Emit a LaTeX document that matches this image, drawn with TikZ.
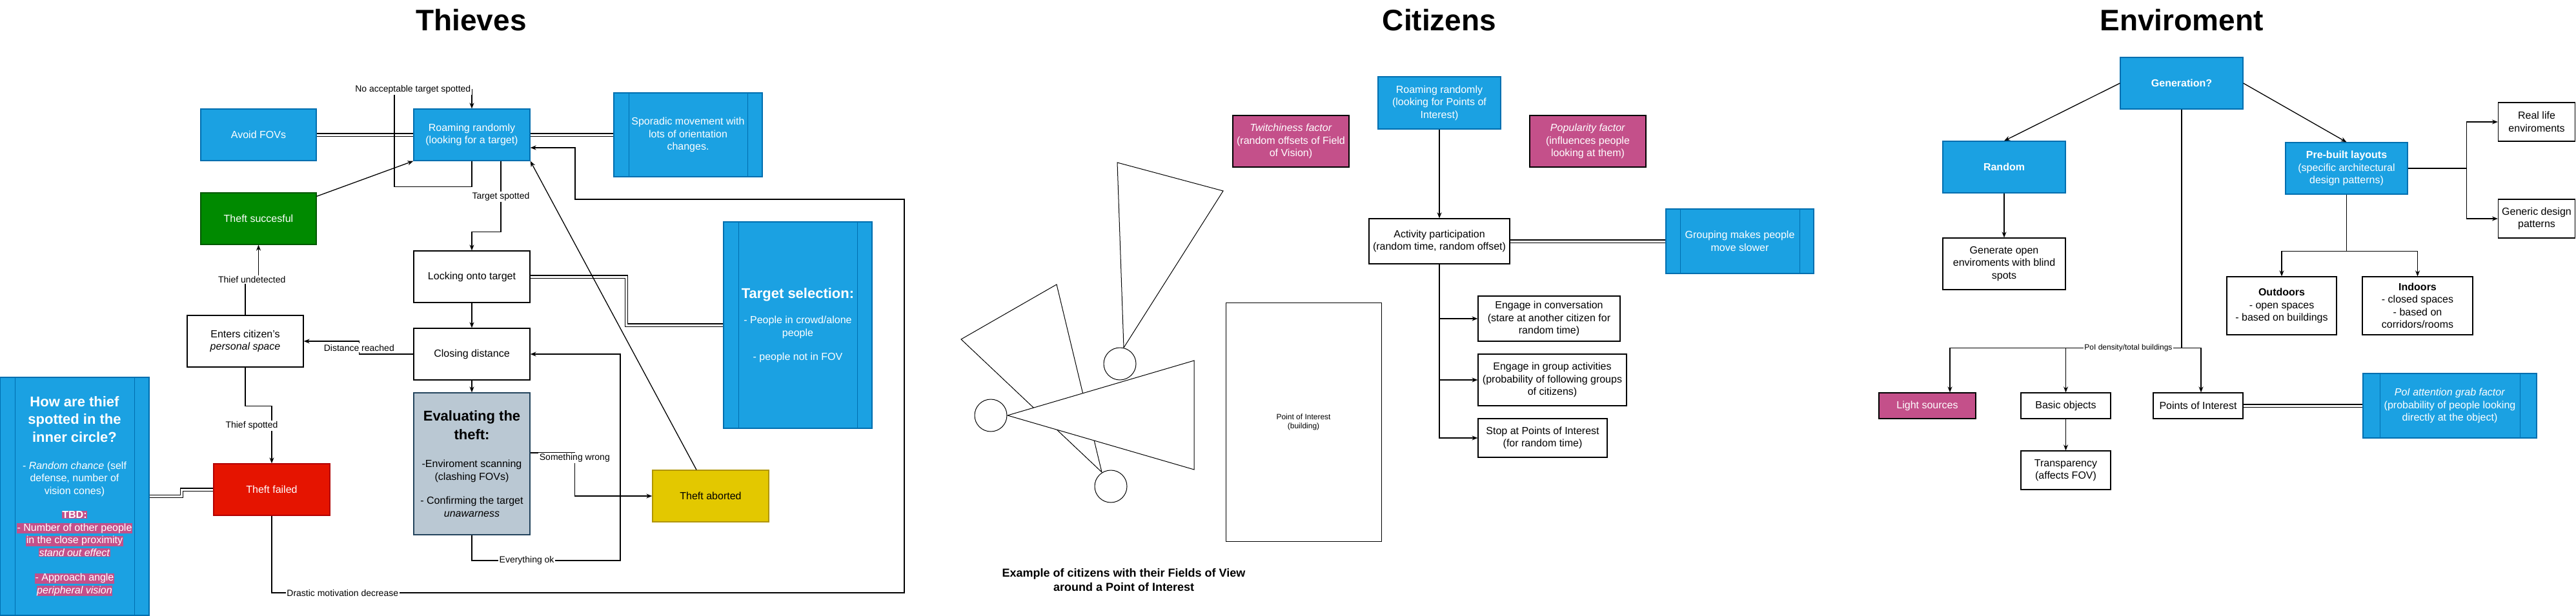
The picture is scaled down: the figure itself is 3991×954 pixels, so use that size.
\documentclass[tikz,border=0pt]{standalone}
\usepackage{fontspec}
\setmainfont{Liberation Sans}
\usetikzlibrary{arrows.meta,calc}

\definecolor{fillblue}{HTML}{1BA1E2}
\definecolor{lineblue}{HTML}{006EAF}
\definecolor{fillgreen}{HTML}{008A00}
\definecolor{linegreen}{HTML}{005700}
\definecolor{fillred}{HTML}{E51400}
\definecolor{linered}{HTML}{B20000}
\definecolor{fillyellow}{HTML}{E3C800}
\definecolor{lineyellow}{HTML}{B09500}
\definecolor{fillgray}{HTML}{BAC8D3}
\definecolor{linegray}{HTML}{23445D}
\definecolor{fillpink}{HTML}{C4508A}

\newcommand{\bodyfont}{\fontsize{16}{19.5}\selectfont}
\newcommand{\headfont}{\fontsize{22}{27}\selectfont\bfseries}
\newcommand{\pinkmark}[1]{{\setlength{\fboxsep}{0.6pt}\colorbox{fillpink}{#1}}}

\tikzset{
  wh/.style 2 args={minimum width=#1pt, minimum height=#2pt},
  box/.style={draw, line width=1.3pt, align=center, inner sep=2pt, font=\bodyfont},
  plainbox/.style={box, fill=white},
  bluebox/.style={box, fill=fillblue, draw=lineblue, text=white},
  greenbox/.style={box, fill=fillgreen, draw=linegreen, text=white},
  redbox/.style={box, fill=fillred, draw=linered, text=white},
  yellowbox/.style={box, fill=fillyellow, draw=lineyellow},
  graybox/.style={box, fill=fillgray, draw=linegray},
  pinkbox/.style={box, fill=fillpink, draw=black, text=white},
  procbox/.style={bluebox, path picture={
      \draw[lineblue, line width=1pt]
        ([xshift=#1]path picture bounding box.north west) -- ([xshift=#1]path picture bounding box.south west)
        ([xshift=-#1]path picture bounding box.north east) -- ([xshift=-#1]path picture bounding box.south east);}},
  procbox/.default=23pt,
  lbl/.style={fill=white, inner sep=1.5pt, font=\fontsize{14}{16}\selectfont},
  smalllbl/.style={fill=white, inner sep=1pt, font=\fontsize{12}{14}\selectfont},
  dbl/.style={double, double distance=3pt, line width=1.1pt},
  title/.style={anchor=base, font=\fontsize{46}{55}\selectfont\bfseries},
  fov/.style={draw, fill=white, line width=1pt},
  citizen/.style={draw, circle, fill=white, line width=1pt, minimum size=50pt, inner sep=0pt},
}

\begin{document}
\begin{tikzpicture}[x=1pt, y=-1pt, line width=1.3pt, >={Stealth[length=9pt,width=7pt]}]
\useasboundingbox (0,0) rectangle (3991,954);

\node[title] (tthieves) at (730,47) {Thieves};
\node[title] (tcitizens) at (2230,47) {Citizens};
\node[title] (tenv) at (3380,47) {Enviroment};

% Thieves
\node[bluebox, wh={179}{80}] (avoid) at (400.5,209) {Avoid FOVs};
\node[bluebox, wh={180}{80}] (roam) at (731,209) {Roaming randomly\\(looking for a target)};
\node[procbox, wh={230}{130}] (sporadic) at (1066,209) {Sporadic movement with\\lots of orientation\\changes.};
\node[greenbox, wh={179}{80}] (success) at (400.5,339) {Theft succesful};
\node[plainbox, wh={180}{80}] (lock) at (731,429) {Locking onto target};
\node[procbox, wh={230}{320}] (select) at (1236,504) {{\headfont Target selection:}\\[20pt]- People in crowd/alone\\people\\[18pt]- people not in FOV};
\node[plainbox, wh={180}{80}] (enters) at (380,529) {Enters citizen's\\\textit{personal space}};
\node[plainbox, wh={180}{80}] (closing) at (731,549) {Closing distance};
\node[graybox, wh={180}{220}] (eval) at (731,719) {{\headfont Evaluating the}\\[7pt]{\headfont theft:}\\[24pt]-Enviroment scanning\\(clashing FOVs)\\[18pt]- Confirming the target\\\textit{unawarness}};
\node[procbox, wh={231}{369}] (howspot) at (115.5,769.5) {{\headfont How are thief}\\[7pt]{\headfont spotted in the}\\[7pt]{\headfont inner circle?}\\[22pt]- \textit{Random chance} (self\\defense, number of\\vision cones)\\[18pt]\pinkmark{\textbf{TBD:}}\\\pinkmark{- Number of other people}\\\pinkmark{in the close proximity}\\\pinkmark{\textit{stand out effect}}\\[19pt]\pinkmark{- Approach angle}\\\pinkmark{\textit{peripheral vision}}};
\node[redbox, wh={180}{80}] (failed) at (421,759) {Theft failed};
\node[yellowbox, wh={180}{80}] (aborted) at (1101,769) {Theft aborted};

\draw[dbl] (avoid) -- (roam);
\draw[dbl] (roam) -- (sporadic);
\draw[->] (roam.south) -- ++(0,40) -| (611,139) -| node[lbl, pos=0.12] {No acceptable target spotted} (roam.north);
\draw[->] ([xshift=45pt]roam.south) -- node[lbl] {Target spotted} ++(0,110) -| (lock.north);
\draw[->] ([yshift=-6pt]success.north east) -- (roam.south west);
\draw[->] (enters.north) -- ++(0,-55) -| node[lbl, pos=0.25] {Thief undetected} (success.south);
\draw[->] (closing.west) -- ++(-84,0) |- node[lbl, pos=0.25] {Distance reached} (enters.east);
\draw[->] (lock) -- (closing);
\draw[->] (closing) -- (eval);
\draw[dbl] (lock.east) -- ++(149,0) |- (select.west);
\draw[->] (enters.south) -- ++(0,60) -| node[lbl, pos=0.67, xshift=-31pt] {Thief spotted} (failed.north);
\draw[->] (failed.south) |- node[lbl, pos=0.556] {Drastic motivation decrease} (1401,919) |- (891,309) |- ([yshift=-20pt]roam.east);
\draw[->] ([yshift=17pt]eval.east) -| node[lbl, pos=0.56] {Something wrong} ($(aborted.west)+(-120,0)$) -- (aborted.west);
\draw[->] (eval.south) |- node[lbl, pos=0.685] {Everything ok} (961,869) |- (closing.east);
\draw[->] ([xshift=-22pt]aborted.north) -- (roam.south east);
\draw[dbl] (howspot.east) -- ++(50,0) |- (failed.west);

% Citizens
\node[bluebox, wh={190}{81}] (croam) at (2230,159.5) {Roaming randomly\\(looking for Points of\\Interest)};
\node[pinkbox, wh={180}{80}] (twitch) at (2000,219) {\textit{Twitchiness factor}\\(random offsets of Field\\of Vision)};
\node[pinkbox, wh={180}{80}] (popular) at (2460,219) {\textit{Popularity factor}\\(influences people\\looking at them)};
\node[plainbox, wh={218}{70}] (activity) at (2230,374) {Activity participation\\(random time, random offset)};
\node[procbox=22pt, wh={229}{100}] (grouping) at (2695.5,374) {Grouping makes people\\move slower};
\node[plainbox, wh={220}{70}] (convo) at (2400,494) {Engage in conversation\\(stare at another citizen for\\random time)};
\node[plainbox, wh={230}{80}] (groupact) at (2405,589) {Engage in group activities\\(probability of following groups\\of citizens)};
\node[plainbox, wh={200}{60}] (stoppoi) at (2390,679) {Stop at Points of Interest\\(for random time)};

\draw[->] (croam) -- (activity);
\draw[dbl] (activity) -- (grouping);
\foreach \act in {convo,groupact,stoppoi}
  \draw[->] (activity.south) |- (\act.west);

\draw[fov] (1707,732) -- (1489,526) -- (1637,441) -- cycle;
\draw[fov] (1741,539) -- (1731,252) -- (1895,296) -- cycle;
\draw[fov] (1561,644) -- (1850,559) -- (1850,728) -- cycle;
\node[citizen] (cit1) at (1535,644) {};
\node[citizen] (cit2) at (1735,564) {};
\node[citizen] (cit3) at (1721,754) {};
\node[plainbox, wh={241}{370}, line width=1pt, font=\fontsize{12}{14}\selectfont] (poi) at (2019.5,654) {Point of Interest\\(building)};
\node[align=center, font=\fontsize{18}{21.6}\selectfont\bfseries] (figcap) at (1741,899) {Example of citizens with their Fields of View\\around a Point of Interest};

% Enviroment
\node[bluebox, wh={190}{80}, font=\bodyfont\bfseries] (gen) at (3380,129) {Generation?};
\node[bluebox, wh={190}{80}, font=\bodyfont\bfseries] (random) at (3105,259) {Random};
\node[bluebox, wh={189}{80}] (prebuilt) at (3635.5,261) {\textbf{Pre-built layouts}\\(specific architectural\\design patterns)};
\node[plainbox, wh={190}{80}] (genopen) at (3105,409) {Generate open\\enviroments with blind\\spots};
\node[plainbox, wh={119}{60}] (reallife) at (3930,189) {Real life\\enviroments};
\node[plainbox, wh={119}{60}] (generic) at (3930,339) {Generic design\\patterns};
\node[plainbox, wh={170}{90}] (outdoors) at (3535,474) {\textbf{Outdoors}\\- open spaces\\- based on buildings};
\node[plainbox, wh={171}{90}] (indoors) at (3745.5,474) {\textbf{Indoors}\\- closed spaces\\- based on\\corridors/rooms};
\node[pinkbox, wh={150}{40}] (light) at (2986,629) {Light sources};
\node[plainbox, wh={139}{40}] (basic) at (3200.5,629) {Basic objects};
\node[plainbox, wh={139}{40}] (pois) at (3405.5,629) {Points of Interest};
\node[plainbox, wh={139}{60}] (transp) at (3200.5,729) {Transparency\\(affects FOV)};
\node[procbox=26pt, wh={269}{100}] (grab) at (3795.5,629) {\textit{PoI attention grab factor}\\(probability of people looking\\directly at the object)};

\draw[->] (gen.west) -- (random.north);
\draw[->] (gen.east) -- (prebuilt.north);
\draw[->] (random) -- (genopen);
\draw[->] (prebuilt.east) -- ++(91,0) |- (reallife.west);
\draw[->] (prebuilt.east) -- ++(91,0) |- (generic.west);
\draw[->] (prebuilt.south) -- ++(0,88) -| (outdoors.north);
\draw[->] (prebuilt.south) -- ++(0,88) -| (indoors.north);
\draw[->] (gen.south) -- ++(0,370) -| ([xshift=35pt]light.north);
\draw[->] (gen.south) -- ++(0,370) -| ([xshift=4.5pt]pois.north);
\draw[->] (gen.south) -- ++(0,370) -| node[smalllbl, pos=0.23] {PoI density/total buildings} (basic.north);
\draw[->] (basic) -- (transp);
\draw[dbl] (pois) -- (grab);
\end{tikzpicture}
\end{document}
